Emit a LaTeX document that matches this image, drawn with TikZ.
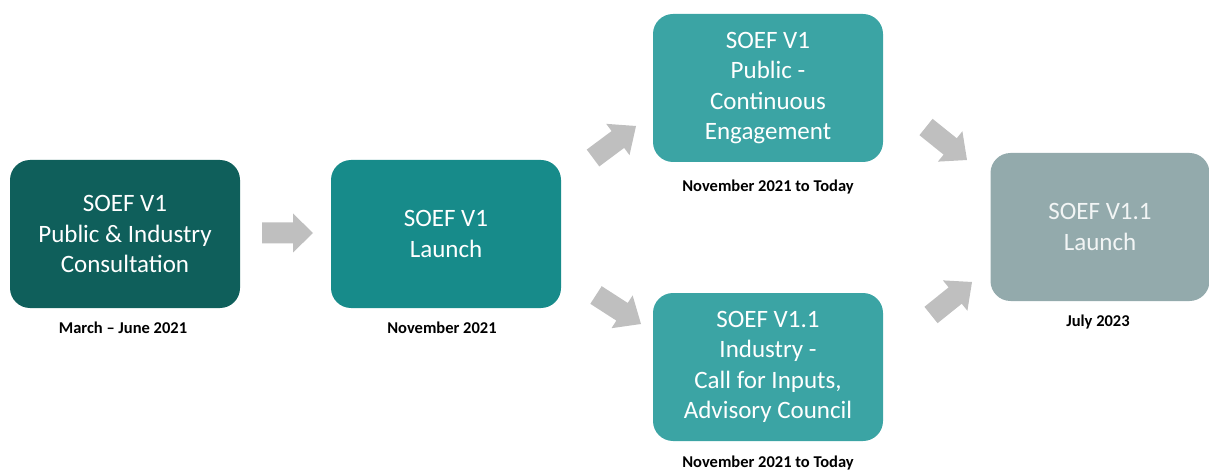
\documentclass[tikz,border=0pt]{standalone}
\usepackage{fontspec}
\setmainfont{Carlito}
\usetikzlibrary{calc}
\definecolor{tealA}{HTML}{0F5F5B}
\definecolor{tealB}{HTML}{178B8A}
\definecolor{tealC}{HTML}{3BA4A4}
\definecolor{greyT}{HTML}{93AAAC}
\definecolor{arrowgrey}{HTML}{BFBFBF}
\tikzset{
  box/.style={rounded corners=20pt, minimum width=230pt, minimum height=148pt,
    inner sep=0pt, align=center, text=white,
    font=\fontsize{25}{30.5}\selectfont},
  datelabel/.style={font=\bfseries\fontsize{16.5}{18}\selectfont, text=black, inner sep=0pt},
}
\newcommand{\blockarrow}[2]{%
  \fill[arrowgrey]
    ($(#1)!10.5pt!90:(#2)$) --
    ($($(#1)!31pt!(#2)$)!10.5pt!90:(#2)$) --
    ($($(#1)!31pt!(#2)$)!19.5pt!90:(#2)$) --
    (#2) --
    ($($(#1)!31pt!(#2)$)!19.5pt!-90:(#2)$) --
    ($($(#1)!31pt!(#2)$)!10.5pt!-90:(#2)$) --
    ($(#1)!10.5pt!-90:(#2)$) -- cycle;}
\begin{document}
\begin{tikzpicture}[x=1pt,y=-1pt]
\useasboundingbox (0,0) rectangle (1209,470);
\node[box, fill=tealA] (b1) at (125,234) {SOEF V1\\Public \& Industry\\Consultation};
\node[box, fill=tealB] (b2) at (446,234) {SOEF V1\\Launch};
\node[box, fill=tealC] (b3) at (768,88) {SOEF V1\\Public -\\Continuous\\Engagement};
\node[box, fill=tealC] (b4) at (768,367) {SOEF V1.1\\Industry -\\Call for Inputs,\\Advisory Council};
\node[box, fill=greyT, minimum width=219pt, text=white!88!greyT] (b5) at (1100,227) {SOEF V1.1\\Launch};
\node[datelabel] (d1) at (123,328) {March – June 2021};
\node[datelabel] (d2) at (442,328) {November 2021};
\node[datelabel] (d3) at (768,187) {November 2021 to Today};
\node[datelabel] (d4) at (768,463) {November 2021 to Today};
\node[datelabel] (d5) at (1098,322) {July 2023};
\coordinate (a1s) at (262,233); \coordinate (a1e) at (313,233);
\coordinate (a2s) at (593,158); \coordinate (a2e) at (636,126);
\coordinate (a3s) at (596,295); \coordinate (a3e) at (641,324);
\coordinate (a4s) at (926,127); \coordinate (a4e) at (967,160);
\coordinate (a5s) at (931,315); \coordinate (a5e) at (972,282);
\blockarrow{a1s}{a1e}
\blockarrow{a2s}{a2e}
\blockarrow{a3s}{a3e}
\blockarrow{a4s}{a4e}
\blockarrow{a5s}{a5e}
\end{tikzpicture}
\end{document}
